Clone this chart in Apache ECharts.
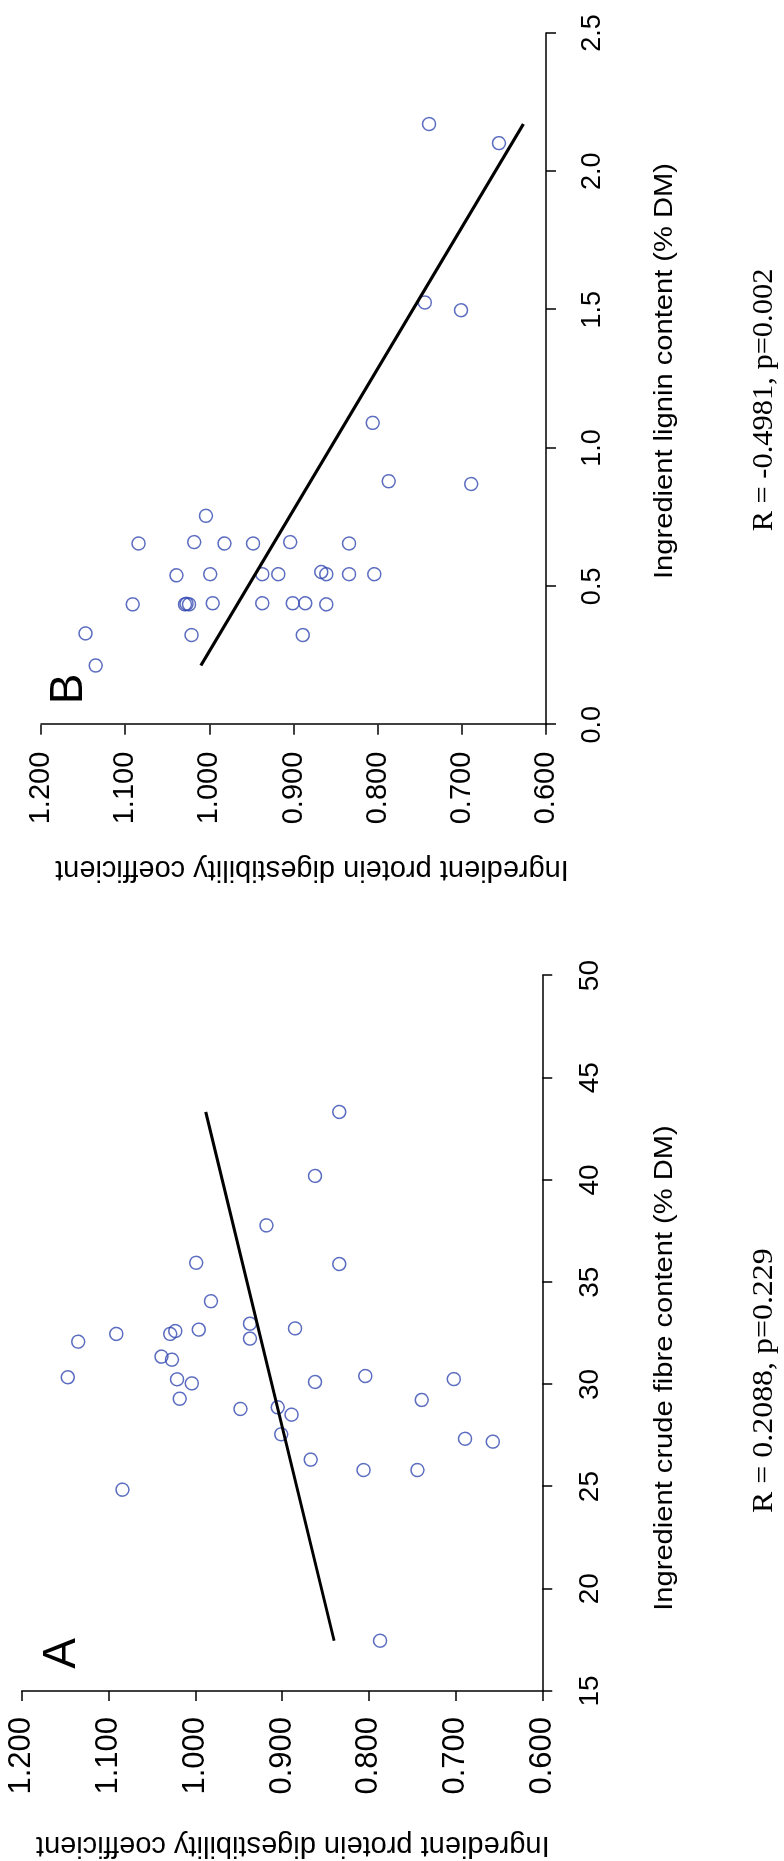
<!DOCTYPE html>
<html>
<head>
<meta charset="utf-8">
<script src="https://cdn.jsdelivr.net/npm/echarts@6.0.0/dist/echarts.min.js"></script>
<style>
html, body { margin:0; padding:0; width:784px; height:1861px; overflow:hidden; background:#ffffff; }
#c { position:absolute; left:0; top:0; width:1861px; height:784px;
     transform-origin:0 0; transform:translate(0px,1861px) rotate(-90deg); }
</style>
</head>
<body>
<div id="c"></div>
<script>
// ---- Data ----
// Panel A: crude fibre (% DM) vs protein digestibility coefficient
const fibreA = [43.33, 40.20, 37.78, 35.95, 35.89, 34.07, 32.97, 32.74, 32.68, 32.61, 32.47, 32.47, 32.09, 32.24, 31.36, 31.21, 30.35, 30.25, 30.05, 29.30, 28.80, 28.88, 28.52, 27.56, 30.12, 30.41, 30.26, 29.24, 27.34, 27.20, 26.32, 25.81, 25.81, 24.85, 17.46];
const digA   = [0.834, 0.862, 0.918, 0.999, 0.834, 0.982, 0.937, 0.885, 0.996, 1.023, 1.029, 1.091, 1.135, 0.937, 1.039, 1.027, 1.147, 1.021, 1.004, 1.018, 0.948, 0.905, 0.889, 0.901, 0.862, 0.804, 0.702, 0.739, 0.689, 0.657, 0.867, 0.806, 0.744, 1.084, 0.787];
// Panel B: lignin (% DM) vs protein digestibility coefficient
const ligninB = [2.171, 2.102, 1.526, 1.498, 1.091, 0.880, 0.870, 0.755, 0.655, 0.660, 0.655, 0.655, 0.660, 0.655, 0.540, 0.544, 0.544, 0.544, 0.552, 0.544, 0.544, 0.544, 0.435, 0.435, 0.435, 0.437, 0.439, 0.439, 0.439, 0.439, 0.435, 0.330, 0.324, 0.324, 0.214];
const digB    = [0.739, 0.656, 0.744, 0.701, 0.806, 0.787, 0.689, 1.004, 1.084, 1.018, 0.982, 0.948, 0.904, 0.834, 1.039, 0.999, 0.937, 0.918, 0.867, 0.861, 0.834, 0.804, 1.091, 1.029, 1.024, 1.027, 0.996, 0.937, 0.901, 0.886, 0.861, 1.147, 1.021, 0.889, 1.135];
// Regression line end points
const fitA_x = [17.46, 43.33];
const fitA_y = [0.840, 0.988];
const fitB_x = [0.214, 2.171];
const fitB_y = [1.010, 0.627];
// Axis ticks
const digTicks    = [0.6, 0.7, 0.8, 0.9, 1.0, 1.1, 1.2];
const fibreTicks  = [15, 20, 25, 30, 35, 40, 45, 50];
const ligninTicks = [0.0, 0.5, 1.0, 1.5, 2.0, 2.5];
// Texts
const labelA = 'A', labelB = 'B';
const xNameA = 'Ingredient crude fibre content (% DM)';
const xNameB = 'Ingredient lignin content (% DM)';
const yName  = 'Ingredient protein digestibility coefficient';
const statA  = 'R = 0.2088, p=0.229';
const statB  = 'R = -0.4981, p=0.002';

const zip = (xs, ys) => xs.map((x, i) => [x, ys[i]]);
const SANS = '"Liberation Sans", Arial, Helvetica, sans-serif';
const SERIF = '"Liberation Serif", "Times New Roman", serif';
const BLUE = '#3349b0';

function valAxis(grid, ticks, dec, fs, margin) {
  return {
    type: 'value', gridIndex: grid,
    min: ticks[0], max: ticks[ticks.length - 1],
    interval: +(ticks[1] - ticks[0]).toFixed(6),
    axisLine: { show: true, onZero: false, lineStyle: { color: '#000', width: 1.5 } },
    axisTick: { show: true, length: 10, inside: false, lineStyle: { color: '#000', width: 1.5 } },
    axisLabel: { fontFamily: SANS, fontSize: fs, color: '#000', margin: margin,
                 formatter: v => Number(v).toFixed(dec) },
    splitLine: { show: false }
  };
}

const chart = echarts.init(document.getElementById('c'), null, { renderer: 'canvas' });
chart.setOption({
  animation: false,
  backgroundColor: '#ffffff',
  grid: [
    { left: 170, top: 21.8, width: 715.4, height: 520.5, containLabel: false },
    { left: 1136.3, top: 40.9, width: 691.7, height: 505.2, containLabel: false }
  ],
  xAxis: [
    valAxis(0, fibreTicks, 0, 28, 34),
    valAxis(1, ligninTicks, 1, 27, 33)
  ],
  yAxis: [
    valAxis(0, digTicks, 3, 31, 26),
    valAxis(1, digTicks, 3, 29, 27)
  ],
  series: [
    { type: 'scatter', xAxisIndex: 0, yAxisIndex: 0, data: zip(fibreA, digA),
      symbol: 'circle', symbolSize: 13,
      itemStyle: { color: 'rgba(255,255,255,0)', borderColor: BLUE, borderWidth: 1.5 } },
    { type: 'line', xAxisIndex: 0, yAxisIndex: 0, data: zip(fitA_x, fitA_y),
      symbol: 'none', lineStyle: { color: '#000', width: 3 } },
    { type: 'scatter', xAxisIndex: 1, yAxisIndex: 1, data: zip(ligninB, digB),
      symbol: 'circle', symbolSize: 13,
      itemStyle: { color: 'rgba(255,255,255,0)', borderColor: BLUE, borderWidth: 1.5 } },
    { type: 'line', xAxisIndex: 1, yAxisIndex: 1, data: zip(fitB_x, fitB_y),
      symbol: 'none', lineStyle: { color: '#000', width: 3 } }
  ],
  graphic: [
    { type: 'text', x: 207.7, y: 62, style: { text: labelA, fontFamily: SANS, fontSize: 46, fill: '#000',
      textAlign: 'center', textVerticalAlign: 'middle', align: 'center', verticalAlign: 'middle' } },
    { type: 'text', x: 1172, y: 69, style: { text: labelB, fontFamily: SANS, fontSize: 46, fill: '#000',
      textAlign: 'center', textVerticalAlign: 'middle', align: 'center', verticalAlign: 'middle' } },
    { type: 'text', x: 493, y: 665, scaleX: 1.12, style: { text: xNameA, fontFamily: SANS, fontSize: 26, fill: '#000',
      textAlign: 'center', textVerticalAlign: 'middle', align: 'center', verticalAlign: 'middle' } },
    { type: 'text', x: 1490, y: 665, scaleX: 1.12, style: { text: xNameB, fontFamily: SANS, fontSize: 26, fill: '#000',
      textAlign: 'center', textVerticalAlign: 'middle', align: 'center', verticalAlign: 'middle' } },
    { type: 'text', x: 16, y: 292.8, rotation: Math.PI / 2, style: { text: yName, fontFamily: SANS, fontSize: 29, fill: '#000',
      textAlign: 'center', textVerticalAlign: 'middle', align: 'center', verticalAlign: 'middle' } },
    { type: 'text', x: 992, y: 312, rotation: Math.PI / 2, style: { text: yName, fontFamily: SANS, fontSize: 29, fill: '#000',
      textAlign: 'center', textVerticalAlign: 'middle', align: 'center', verticalAlign: 'middle' } },
    { type: 'text', x: 480.4, y: 764, scaleX: 1.1, style: { text: statA, fontFamily: SERIF, fontSize: 29, fill: '#000',
      textAlign: 'center', textVerticalAlign: 'middle', align: 'center', verticalAlign: 'middle' } },
    { type: 'text', x: 1461, y: 764, scaleX: 1.05, style: { text: statB, fontFamily: SERIF, fontSize: 29, fill: '#000',
      textAlign: 'center', textVerticalAlign: 'middle', align: 'center', verticalAlign: 'middle' } }
  ]
});
</script>
</body>
</html>
